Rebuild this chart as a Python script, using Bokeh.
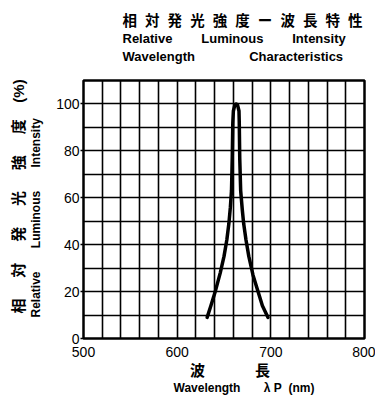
from bokeh.plotting import figure
from bokeh.models import Title, FixedTicker, Range1d
from bokeh.embed import file_html
from bokeh.resources import INLINE

# ---- data ----
wavelength = [632, 636, 641, 646, 650, 653, 655.2, 656.8, 658, 658.8, 659.4, 660, 661.5, 663,
              664.5, 666, 666.3, 666.8, 667.8, 669.5, 671, 673.5, 676.5, 681, 686, 691, 697]
intensity = [9, 14, 20.5, 28, 35, 42, 49, 56, 63, 77, 92, 97, 99.5, 100,
             99.5, 97, 92, 77, 63, 55, 49, 42, 35, 27, 20.5, 14, 9]
x_ticks = [500, 600, 700, 800]
y_ticks = [0, 20, 40, 60, 80, 100]
x_grid = list(range(500, 801, 20))
y_grid = list(range(0, 111, 10))

NB = "\u00a0"
W, H = 375, 398
FL, FT, FR, FB = 83, 80, 364, 338  # frame edges in canvas pixels
p = figure(width=W, height=H, x_range=Range1d(500, 800), y_range=Range1d(0, 110),
           output_backend="svg", toolbar_location=None,
           min_border_left=FL, min_border_right=W - FR, min_border_top=FT, min_border_bottom=H - FB)
p.background_fill_color = "white"
p.border_fill_color = "white"
p.outline_line_color = "black"
p.outline_line_width = 2.5

p.xgrid.ticker = FixedTicker(ticks=x_grid)
p.ygrid.ticker = FixedTicker(ticks=y_grid)
for g in (p.xgrid, p.ygrid):
    g.grid_line_color = "black"
    g.grid_line_width = 1.6
    g.grid_line_alpha = 1.0

p.xaxis.ticker = FixedTicker(ticks=x_ticks)
p.yaxis.ticker = FixedTicker(ticks=y_ticks)
for ax in (p.xaxis, p.yaxis):
    ax.axis_line_color = None
    ax.minor_tick_line_color = None
    ax.major_label_text_font = "Liberation Sans"
    ax.major_label_text_font_size = "14px"
    ax.major_label_text_color = "black"
p.xaxis.major_tick_line_color = None
p.xaxis.major_label_standoff = 2
p.yaxis.major_tick_line_color = "black"
p.yaxis.major_tick_line_width = 1.5
p.yaxis.major_tick_out = 3
p.yaxis.major_tick_in = 0
p.yaxis.major_label_standoff = 1

p.line(wavelength, intensity, line_color="black", line_width=3.5, line_join="round", line_cap="round")

CJK = "Liberation Sans, Noto Sans CJK JP"
LAT = "Liberation Sans"


def style(t, size, font=LAT, offset=0, standoff=0, align="left"):
    t.text_font = font
    t.text_font_size = f"{size}px"
    t.text_font_style = "bold"
    t.text_color = "black"
    t.align = align
    t.offset = offset
    t.standoff = standoff
    return t


# ---- title (p.title is outermost; added titles stack outward from the frame) ----
p.title.text = (NB * 2).join("相対発光強度ー波長特性")
style(p.title, 14.5, font=CJK, offset=122 - FL, standoff=0)
p.add_layout(style(Title(text=NB), 12, standoff=0), "above")  # blank gap above the frame
row3 = style(Title(text="Wavelength" + NB * 15 + "Characteristics"), 13,
             offset=122 - FL, standoff=2)
p.add_layout(row3, "above")
row2 = style(Title(text="Relative" + NB * 8 + "Luminous" + NB * 8 + "Intensity"), 13,
             offset=122 - FL, standoff=0)
p.add_layout(row2, "above")

# ---- y-axis titles (left) ----
p.add_layout(style(Title(text=NB), 8, standoff=0), "left")  # blank gap beside the tick labels
yl1 = style(Title(text="Relative" + NB * 7 + "Luminous" + NB * 7 + "Intensity"), 12,
            offset=FB - 317, standoff=0)
p.add_layout(yl1, "left")
yl2 = style(Title(text=(NB * 5).join("相対発光強度") + NB * 4 + "(%)"), 15, font=CJK,
            offset=FB - 313, standoff=0)
p.add_layout(yl2, "left")

# ---- x-axis titles (below) ----
xl1 = style(Title(text="波" + NB * 12 + "長"), 15, font=CJK, offset=189.5 - FL, standoff=0)
p.add_layout(xl1, "below")
xl2 = style(Title(text="Wavelength" + NB * 7 + "λ" + NB + "P" + NB * 2 + "(nm)"), 12,
            offset=173 - FL, standoff=0)
p.add_layout(xl2, "below")

open("out.html", "w").write(file_html(p, INLINE))
